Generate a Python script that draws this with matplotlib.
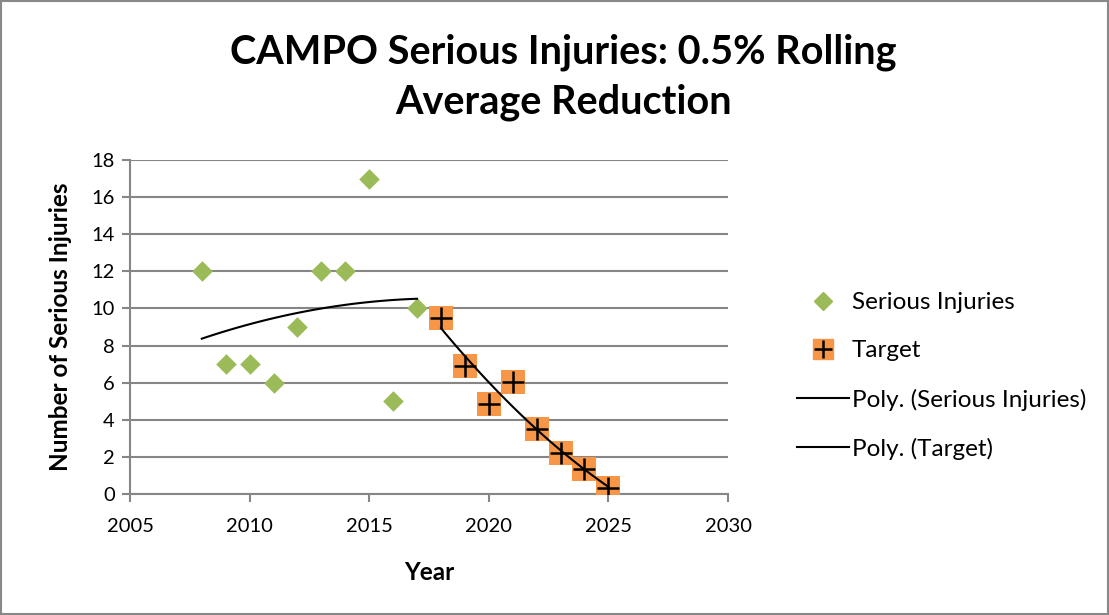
import numpy as np
import matplotlib
matplotlib.use("Agg")
import matplotlib.pyplot as plt
from matplotlib.lines import Line2D
from matplotlib.patches import Rectangle

years_si = [2008, 2009, 2010, 2011, 2012, 2013, 2014, 2015, 2016, 2017]
serious_injuries = [12, 7, 7, 6, 9, 12, 12, 17, 5, 10.05]
years_target = [2018, 2019, 2020, 2021, 2022, 2023, 2024, 2025]
target = [9.5, 6.9, 4.85, 6.05, 3.5, 2.2, 1.35, 0.3]

plt.rcParams['font.family'] = ['Lato', 'DejaVu Sans']

fig = plt.figure(figsize=(11.09, 6.15), dpi=100)
ax = fig.add_axes([130/1109, 1-494/615, (728-130)/1109, (494-160)/615])

green = '#9BBB59'
orange = '#F79646'
grid = '#868686'

# trendlines (2nd order polynomial)
c1 = np.polyfit(years_si, serious_injuries, 2)
xs1 = np.linspace(years_si[0], years_si[-1], 100)
ax.plot(xs1, np.polyval(c1, xs1), color='black', lw=1.5, zorder=4)
c2 = np.polyfit(years_target, target, 2)
xs2 = np.linspace(years_target[0], years_target[-1], 100)

ax.scatter(years_si, serious_injuries, marker='D', s=110, color=green, zorder=3, linewidths=0)
ax.scatter(years_target, target, marker='s', s=300, color=orange, zorder=3, linewidths=0)
ax.plot(xs2, np.polyval(c2, xs2), color='black', lw=1.5, zorder=4)
ax.scatter(years_target, target, marker='+', s=260, color='black', zorder=5, linewidths=1.8)

ax.set_xlim(2005, 2030)
ax.set_ylim(0, 18)
ax.set_xticks(range(2005, 2031, 5))
ax.set_yticks(range(0, 19, 2))
ax.grid(axis='y', color=grid, lw=1.5)
ax.set_axisbelow(True)
for s in ['top', 'right']:
    ax.spines[s].set_visible(False)
for s in ['left', 'bottom']:
    ax.spines[s].set_color(grid)
    ax.spines[s].set_linewidth(1.5)
ax.tick_params(axis='both', colors=grid, labelcolor='black', labelsize=14.5, length=6, width=1.5, direction='out')
ax.tick_params(axis='x', pad=11)
ax.tick_params(axis='y', pad=5)

ax.set_xlabel('Year', fontsize=17.5, fontweight='bold', labelpad=19)
ax.set_ylabel('Number of Serious Injuries', fontsize=17.5, fontweight='bold', labelpad=14)

fig.text(0.508, 0.915, 'CAMPO Serious Injuries: 0.5% Rolling', ha='center', va='center', fontsize=28.5, fontweight='bold')
fig.text(0.508, 0.833, 'Average Reduction', ha='center', va='center', fontsize=28.5, fontweight='bold')

handles = [
    Line2D([], [], marker='D', color=green, ls='none', markersize=9),
    (Line2D([], [], marker='s', color=orange, ls='none', markersize=14),
     Line2D([], [], marker='+', color='black', ls='none', markersize=13, mew=1.8)),
    Line2D([], [], color='black', lw=1.5),
    Line2D([], [], color='black', lw=1.5),
]
labels = ['Serious Injuries', 'Target', 'Poly. (Serious Injuries)', 'Poly. (Target)']
fig.legend(handles, labels, loc='center left', bbox_to_anchor=(797/1109, 1-376/615),
           frameon=False, fontsize=17.5, handlelength=2.15, labelspacing=1.12, handletextpad=0.1, borderaxespad=0,
           borderpad=0)

fig.patches.append(Rectangle((0.001, 0.001), 0.998, 0.997, transform=fig.transFigure, fill=False, edgecolor='#888888', lw=1.5))

fig.savefig('out.png', dpi=100)
